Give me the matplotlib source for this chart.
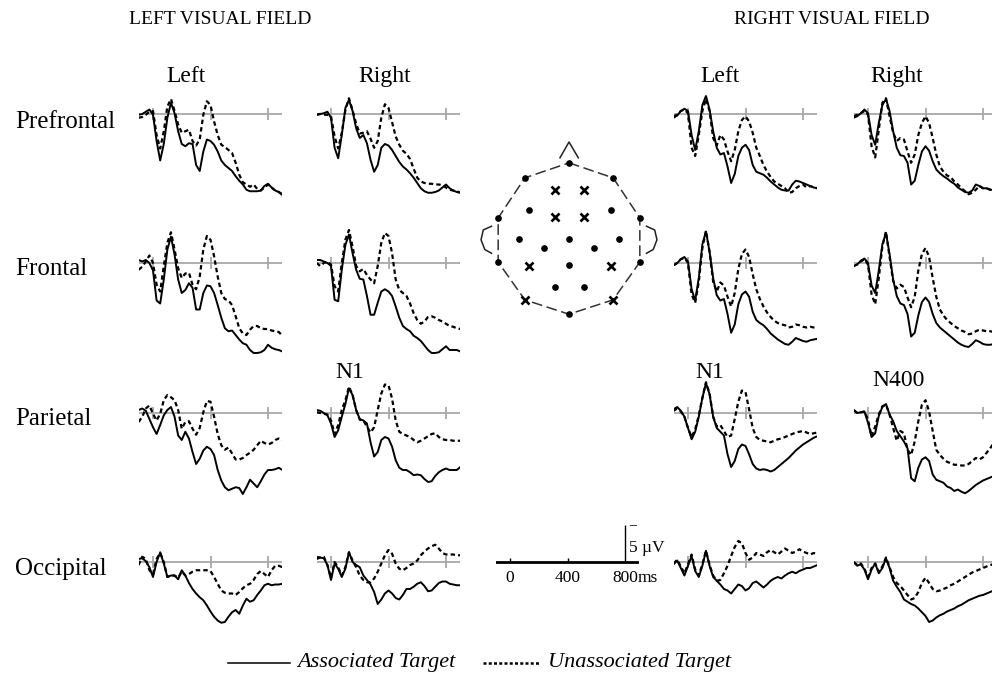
import matplotlib.pyplot as plt
import numpy as np

plt.rcParams['font.family'] = ['Liberation Serif', 'DejaVu Serif']

W, H = 992, 685
time_ms = np.arange(-100, 901, 25)

# ERP amplitudes in microvolts (negative plotted up), sampled every 25 ms
lvf_l_pre_assoc = [0.1, 0.0, -0.3, -0.6, 0.1, 3.6, 6.2, 4.0, 0.5, -1.5, -0.1, 2.3, 4.0, 4.3, 3.9, 4.0, 6.8, 7.6, 5.0, 3.4, 3.6, 4.1, 5.0, 6.2, 6.8, 7.2, 7.6, 8.3, 8.9, 9.4, 10.1, 10.3, 10.3, 10.3, 10.2, 9.6, 9.3, 9.8, 10.2, 10.4, 10.8]
lvf_l_pre_unassoc = [0.5, 0.4, 0.1, -0.3, -0.4, 2.8, 4.6, 2.3, -1.0, -2.0, -0.4, 1.4, 2.5, 2.3, 2.1, 3.6, 4.2, 3.4, 0.1, -1.7, -1.2, 1.0, 2.8, 4.1, 4.4, 4.8, 5.2, 6.5, 8.1, 9.1, 9.4, 9.7, 9.4, 10.0, 10.2, 9.8, 9.4, 9.8, 10.2, 10.4, 10.7]
lvf_r_pre_assoc = [0.1, 0.0, -0.1, -0.3, 0.5, 4.5, 5.9, 2.8, -0.8, -1.9, -0.4, 1.9, 3.2, 2.8, 3.9, 6.1, 7.7, 6.8, 4.5, 4.0, 4.2, 4.8, 5.6, 6.4, 7.0, 7.4, 7.9, 8.5, 9.2, 9.9, 10.3, 10.5, 10.5, 10.4, 10.2, 9.8, 9.4, 9.9, 10.2, 10.4, 10.5]
lvf_r_pre_unassoc = [0.1, 0.0, 0.1, 0.1, 0.3, 3.0, 4.6, 2.5, -0.5, -2.1, -0.5, 1.3, 2.6, 2.5, 2.3, 3.3, 4.5, 3.6, 0.5, -1.3, -0.8, 1.1, 3.0, 4.1, 4.9, 5.3, 6.0, 7.3, 8.5, 9.0, 9.2, 9.3, 9.3, 9.4, 9.4, 9.5, 9.8, 10.1, 10.2, 10.3, 10.5]

lvf_l_fro_assoc = [-0.4, -0.2, -0.4, 0.0, 1.0, 5.0, 5.4, 2.2, -1.8, -3.5, -1.1, 2.2, 4.0, 3.6, 2.7, 3.3, 6.2, 6.2, 4.0, 3.0, 3.1, 4.0, 5.6, 7.3, 8.7, 9.1, 9.0, 9.6, 10.2, 10.7, 10.9, 11.6, 12.0, 12.0, 11.9, 11.6, 10.9, 11.3, 11.5, 11.6, 11.8]
lvf_l_fro_unassoc = [0.9, 0.5, -0.2, -1.0, 0.0, 2.9, 3.8, 0.4, -2.7, -4.1, -1.8, 0.7, 2.0, 1.4, 1.3, 2.9, 3.5, 1.8, -1.8, -3.6, -3.1, -0.9, 1.8, 4.0, 4.8, 5.0, 5.6, 7.1, 8.7, 9.4, 9.6, 8.9, 8.4, 8.4, 8.7, 8.8, 8.8, 9.0, 9.1, 9.2, 9.7]
lvf_r_fro_assoc = [-0.4, -0.4, -0.2, 0.0, 0.4, 4.9, 5.1, 0.9, -2.4, -3.8, -1.3, 0.9, 2.1, 2.2, 4.4, 6.9, 6.9, 5.3, 3.8, 3.5, 3.8, 4.4, 5.8, 7.3, 8.4, 8.8, 9.1, 9.7, 10.0, 10.4, 11.0, 11.6, 12.0, 12.0, 11.9, 11.5, 11.1, 11.6, 11.6, 11.6, 11.8]
lvf_r_fro_unassoc = [0.0, 0.4, 0.0, -0.2, 0.2, 3.1, 3.8, 0.0, -3.1, -4.4, -2.2, 0.4, 1.1, 0.8, 1.6, 2.2, 2.7, 0.4, -2.7, -4.0, -3.6, -1.3, 2.2, 3.6, 4.0, 4.4, 5.4, 6.7, 7.6, 8.1, 7.8, 7.2, 7.1, 7.3, 7.6, 7.8, 8.1, 8.4, 8.5, 8.7, 8.8]

lvf_l_par_assoc = [-0.4, -0.6, -0.3, 0.8, 1.9, 2.8, 1.6, 0.3, -0.4, -0.8, 0.5, 3.0, 3.6, 2.5, 3.4, 5.2, 6.8, 6.1, 5.0, 4.5, 4.8, 5.6, 7.6, 9.0, 9.9, 10.3, 10.1, 9.9, 10.0, 10.8, 9.9, 8.9, 9.4, 9.9, 9.1, 8.2, 7.6, 7.6, 7.5, 7.3, 7.6]
lvf_l_par_unassoc = [1.2, 0.5, -0.6, -1.0, 0.1, 1.0, 0.1, -1.7, -2.4, -2.1, -1.7, -0.4, 2.1, 1.2, 1.1, 2.1, 2.9, 2.0, -0.1, -1.6, -1.5, 0.5, 2.8, 4.3, 4.9, 4.6, 5.4, 6.2, 6.2, 6.0, 5.6, 5.3, 4.9, 4.3, 3.7, 4.0, 4.2, 4.0, 3.6, 3.4, 3.6]
lvf_r_par_assoc = [-0.4, -0.3, 0.0, 0.3, 1.4, 3.2, 2.3, 0.5, -1.2, -3.3, -2.4, -0.4, 0.8, 1.0, 1.4, 3.9, 5.8, 5.2, 3.6, 3.2, 3.4, 4.5, 6.3, 7.3, 7.6, 7.6, 7.9, 8.3, 8.2, 8.3, 8.8, 9.2, 9.1, 8.4, 7.9, 7.6, 7.4, 7.6, 7.6, 7.6, 7.2]
lvf_r_par_unassoc = [-0.1, 0.0, 0.1, 0.2, 1.0, 2.8, 1.6, -0.4, -1.7, -3.5, -2.4, -0.4, 0.9, 1.0, 1.8, 2.6, 1.9, -0.4, -2.6, -3.8, -3.7, -1.9, 1.0, 2.5, 2.8, 3.0, 3.2, 3.6, 3.9, 3.7, 3.4, 3.1, 2.8, 2.7, 3.2, 3.5, 3.6, 3.6, 3.7, 3.7, 3.7]

lvf_l_occ_assoc = [-0.4, -0.5, -0.1, 0.7, 2.0, 0.0, -1.3, 0.2, 2.0, 1.8, 1.8, 2.3, 1.1, 1.8, 2.8, 3.6, 4.2, 4.7, 5.1, 5.8, 6.6, 7.3, 7.8, 8.1, 8.0, 7.3, 6.7, 6.4, 6.9, 5.8, 4.9, 5.3, 5.1, 4.4, 3.8, 3.1, 2.9, 3.1, 3.0, 3.0, 2.9]
lvf_l_occ_unassoc = [0.4, -0.7, -0.4, 1.1, 1.6, -0.4, -1.2, 0.0, 2.0, 1.8, 1.8, 2.1, 1.3, 1.8, 1.6, 1.3, 1.1, 1.1, 1.1, 1.1, 1.2, 2.0, 2.9, 3.8, 4.1, 4.2, 4.2, 4.4, 4.0, 3.5, 3.1, 2.9, 2.4, 1.6, 1.2, 1.6, 2.0, 1.1, 0.5, 0.5, 0.7]
lvf_r_occ_assoc = [-0.7, -0.6, -0.5, 0.4, 2.4, 0.2, 0.9, 2.0, 0.9, -1.3, 0.0, 0.4, 0.7, 1.8, 2.4, 3.0, 4.0, 5.6, 5.0, 4.2, 3.8, 4.2, 4.8, 5.0, 4.4, 3.6, 3.6, 3.3, 2.9, 2.7, 3.2, 3.9, 3.8, 3.3, 2.8, 2.6, 2.6, 2.9, 3.0, 3.1, 3.1]
lvf_r_occ_unassoc = [-0.4, -0.6, -0.7, 0.4, 2.1, 0.0, 0.7, 1.8, 0.7, -1.3, -0.2, 0.7, 1.8, 2.4, 2.7, 2.7, 2.2, 1.3, 0.2, -0.9, -1.6, -1.1, 0.2, 0.9, 1.1, 0.8, 0.4, 0.2, -0.2, -0.9, -1.4, -1.8, -2.1, -2.3, -1.8, -1.2, -1.0, -1.0, -1.0, -0.9, -0.9]

rvf_l_pre_assoc = [0.5, 0.2, -0.4, -0.7, -0.4, 2.8, 4.8, 2.3, -1.2, -2.4, -0.6, 2.3, 4.5, 5.4, 5.2, 7.0, 9.2, 8.0, 5.6, 4.5, 4.1, 4.8, 6.8, 7.7, 7.9, 8.1, 8.5, 9.0, 9.4, 9.8, 10.1, 10.2, 10.2, 9.4, 8.9, 9.0, 9.2, 9.4, 9.6, 9.8, 9.9]
rvf_l_pre_unassoc = [0.3, 0.1, -0.4, -0.6, -0.1, 4.5, 5.6, 2.8, -0.4, -2.0, -0.4, 3.2, 4.2, 2.8, 3.4, 5.0, 6.3, 4.8, 2.3, 0.8, 0.3, 1.0, 2.5, 4.5, 5.6, 6.8, 7.7, 8.4, 9.0, 9.3, 9.6, 9.9, 10.5, 10.4, 9.9, 9.6, 9.4, 9.8, 9.6, 9.8, 9.9]
rvf_r_pre_assoc = [0.5, 0.3, -0.1, -0.6, -0.1, 2.8, 4.1, 1.2, -1.2, -2.0, -0.4, 2.3, 4.5, 5.5, 5.6, 6.5, 9.4, 8.9, 6.8, 5.0, 4.3, 4.9, 6.3, 7.4, 7.9, 8.3, 8.6, 9.0, 9.3, 9.8, 10.1, 10.4, 10.5, 10.2, 9.4, 9.6, 9.9, 9.9, 10.1, 10.1, 10.1]
rvf_r_pre_unassoc = [0.3, 0.1, -0.1, -0.4, 0.1, 4.3, 5.8, 2.1, -1.5, -2.1, 0.3, 2.5, 3.6, 3.2, 3.4, 5.0, 6.5, 5.4, 2.8, 1.2, 0.3, 1.2, 3.2, 5.4, 7.0, 7.7, 8.2, 8.4, 9.0, 9.4, 9.9, 10.3, 10.7, 10.5, 10.1, 9.6, 9.9, 9.9, 10.1, 10.1, 10.1]

rvf_l_fro_assoc = [0.3, 0.0, -0.5, -0.8, -0.2, 3.5, 5.0, 2.0, -2.5, -4.2, -1.5, 2.0, 4.3, 5.0, 4.8, 6.8, 9.3, 8.2, 5.5, 4.2, 3.8, 4.5, 6.5, 7.6, 8.0, 8.3, 8.8, 9.4, 9.8, 10.2, 10.5, 10.8, 10.9, 10.5, 10.0, 10.2, 10.4, 10.5, 10.3, 10.2, 10.1]
rvf_l_fro_unassoc = [0.3, 0.0, -0.5, -0.7, 0.0, 4.2, 5.3, 2.5, -2.0, -4.3, -1.5, 2.5, 3.8, 2.6, 3.0, 4.5, 5.8, 4.0, 0.8, -1.2, -1.8, -0.8, 1.5, 3.5, 4.8, 5.8, 6.6, 7.2, 7.7, 8.0, 8.2, 8.3, 8.6, 8.5, 8.2, 8.3, 8.5, 8.6, 8.5, 8.6, 8.7]
rvf_r_fro_assoc = [0.4, 0.2, -0.3, -0.6, 0.0, 3.0, 4.0, 1.0, -2.5, -4.0, -1.2, 2.2, 4.4, 5.4, 5.6, 6.8, 9.8, 9.3, 7.0, 5.2, 4.6, 5.2, 6.8, 8.0, 8.6, 9.0, 9.4, 9.8, 10.2, 10.6, 10.9, 11.1, 11.2, 10.8, 10.3, 10.5, 10.8, 10.9, 10.9, 10.8, 10.8]
rvf_r_fro_unassoc = [0.4, 0.2, -0.2, -0.5, 0.2, 4.2, 5.5, 2.0, -2.2, -4.2, -0.8, 2.4, 3.4, 2.9, 3.2, 4.6, 5.9, 4.5, 1.0, -1.2, -2.0, -0.8, 2.0, 4.5, 6.2, 7.0, 7.6, 8.0, 8.4, 8.7, 9.0, 9.2, 9.5, 9.4, 9.1, 8.9, 9.0, 9.1, 9.1, 9.2, 9.2]

rvf_l_par_assoc = [-0.5, -0.8, -0.3, 0.5, 2.0, 3.5, 2.5, 0.5, -2.0, -4.0, -2.5, 0.5, 2.0, 2.5, 3.0, 5.5, 7.2, 6.4, 4.8, 4.2, 4.4, 5.5, 6.8, 7.4, 7.6, 7.5, 7.6, 7.8, 7.6, 7.2, 6.8, 6.4, 6.0, 5.5, 5.0, 4.6, 4.2, 3.9, 3.6, 3.3, 3.1]
rvf_l_par_unassoc = [-0.3, -0.6, -0.2, 0.5, 2.0, 3.2, 2.2, 0.3, -2.0, -4.1, -2.6, 0.5, 1.8, 1.6, 2.4, 3.2, 3.0, 0.8, -1.5, -3.0, -2.8, -0.5, 2.0, 3.2, 3.6, 3.7, 3.8, 3.9, 3.7, 3.5, 3.4, 3.2, 3.0, 2.8, 2.6, 2.5, 2.4, 2.6, 2.8, 2.7, 2.6]
rvf_r_par_assoc = [-0.4, 0.0, -0.1, -0.2, 1.3, 3.2, 2.7, 0.4, -0.8, -1.2, 0.2, 1.1, 2.4, 3.1, 3.8, 4.7, 8.7, 9.1, 7.3, 6.2, 5.9, 6.4, 8.2, 8.9, 9.1, 9.3, 9.8, 10.0, 10.4, 10.2, 10.5, 10.7, 10.4, 10.0, 9.6, 9.3, 9.0, 8.8, 8.6, 8.4, 8.3]
rvf_r_par_unassoc = [-0.4, 0.0, -0.1, -0.2, 0.9, 3.1, 1.8, 0.2, -0.9, -1.1, 0.2, 2.0, 3.7, 2.4, 2.7, 4.9, 5.6, 3.8, 1.1, -1.1, -1.7, -0.2, 2.4, 4.9, 5.6, 6.1, 6.5, 6.7, 6.9, 6.9, 7.0, 7.0, 6.8, 6.4, 6.0, 6.2, 5.9, 5.3, 4.7, 4.0, 3.4]

rvf_l_occ_assoc = [0.3, -0.2, 0.8, 1.8, 0.5, -0.8, 1.2, 2.0, 0.5, -1.5, 0.5, 2.0, 2.5, 3.0, 3.6, 3.8, 4.2, 3.6, 3.0, 3.2, 3.8, 3.5, 2.8, 2.6, 3.0, 3.4, 3.0, 2.5, 2.2, 2.0, 2.2, 1.8, 1.5, 1.3, 1.5, 1.2, 1.0, 0.8, 0.8, 0.6, 0.4]
rvf_l_occ_unassoc = [0.2, -0.3, 0.6, 1.5, 0.3, -1.0, 1.0, 1.8, 0.3, -1.5, 0.4, 1.8, 2.5, 2.4, 1.5, 0.5, -0.8, -2.0, -2.8, -2.5, -1.2, -0.3, -0.6, -1.2, -1.0, -0.8, -1.3, -1.6, -1.3, -1.0, -1.4, -1.8, -1.5, -1.2, -1.4, -1.7, -1.4, -1.2, -1.0, -1.2, -1.0]
rvf_r_occ_assoc = [0.0, 0.5, 0.3, 1.0, 2.3, 1.0, 0.2, 1.5, 0.8, -0.5, 0.8, 2.5, 3.3, 4.0, 5.0, 5.3, 5.6, 5.8, 6.2, 6.7, 7.2, 8.0, 7.8, 7.4, 7.1, 6.9, 6.6, 6.4, 6.2, 5.9, 5.7, 5.4, 5.1, 4.9, 4.7, 4.5, 4.4, 4.2, 4.0, 3.8, 3.7]
rvf_r_occ_unassoc = [0.0, 0.4, 0.2, 0.9, 2.0, 0.8, 0.2, 1.3, 0.6, -0.6, 0.7, 2.0, 2.8, 3.2, 3.8, 4.4, 5.0, 4.8, 4.0, 2.8, 2.1, 2.8, 3.6, 3.9, 3.8, 3.6, 3.4, 3.1, 2.9, 2.6, 2.3, 2.0, 1.7, 1.4, 1.2, 1.0, 0.8, 0.6, 0.4, 0.3, 0.2]

regions = ['Prefrontal', 'Frontal', 'Parietal', 'Occipital']
hemispheres = ['Left', 'Right']
fields = ['LEFT VISUAL FIELD', 'RIGHT VISUAL FIELD']

panels = [
    [(lvf_l_pre_assoc, lvf_l_pre_unassoc), (lvf_r_pre_assoc, lvf_r_pre_unassoc),
     (rvf_l_pre_assoc, rvf_l_pre_unassoc), (rvf_r_pre_assoc, rvf_r_pre_unassoc)],
    [(lvf_l_fro_assoc, lvf_l_fro_unassoc), (lvf_r_fro_assoc, lvf_r_fro_unassoc),
     (rvf_l_fro_assoc, rvf_l_fro_unassoc), (rvf_r_fro_assoc, rvf_r_fro_unassoc)],
    [(lvf_l_par_assoc, lvf_l_par_unassoc), (lvf_r_par_assoc, lvf_r_par_unassoc),
     (rvf_l_par_assoc, rvf_l_par_unassoc), (rvf_r_par_assoc, rvf_r_par_unassoc)],
    [(lvf_l_occ_assoc, lvf_l_occ_unassoc), (lvf_r_occ_assoc, lvf_r_occ_unassoc),
     (rvf_l_occ_assoc, rvf_l_occ_unassoc), (rvf_r_occ_assoc, rvf_r_occ_unassoc)],
]

# electrode montage (head coordinates, nose up)
outline_x = [0.0, 0.587, 0.942, 0.942, 0.587, 0.0, -0.587, -0.942, -0.942, -0.587, 0.0]
outline_y = [1.013, 0.813, 0.28, -0.307, -0.809, -1.0, -0.809, -0.307, 0.28, 0.813, 1.013]
dot_x = [0.0, -0.587, 0.587, -0.942, 0.942, -0.942, 0.942, 0.0, -0.529, 0.556, -0.662, 0.0, 0.662, -0.333, 0.333, 0.0, -0.187, 0.2]
dot_y = [1.013, 0.813, 0.813, 0.28, 0.28, -0.307, -0.307, -1.0, 0.391, 0.391, 0.0, 0.0, 0.0, -0.12, -0.12, -0.342, -0.64, -0.64]
cross_x = [-0.187, 0.2, -0.187, 0.2, -0.529, 0.556, -0.587, 0.587]
cross_y = [0.658, 0.658, 0.293, 0.293, -0.364, -0.364, -0.809, -0.809]

# layout in pixels
PX_MS = 57.5 / 400
PX_UV = 7.5
col_zero = [153, 331, 688, 868]
row_base = [114, 263, 413, 562]

fig = plt.figure(figsize=(W / 100, H / 100), dpi=100)


def px_axes(x, y, w, h):
    return fig.add_axes([x / W, 1 - (y + h) / H, w / W, h / H])


def wave_axes(x0, base):
    ax = px_axes(x0 - 100 * PX_MS, base - 6 * PX_UV, 1000 * PX_MS, 20 * PX_UV)
    ax.set_xlim(-100, 900)
    ax.set_ylim(14, -6)
    ax.axis('off')
    return ax


grey = '#a8a8a8'
for r, row in enumerate(panels):
    for c, (assoc, unassoc) in enumerate(row):
        ax = wave_axes(col_zero[c], row_base[r])
        ax.axhline(0, color=grey, lw=1.3, zorder=1)
        ax.vlines([0, 400, 800], -0.85, 0.85, color=grey, lw=1.3, zorder=1)
        ax.plot(time_ms, assoc, color='black', lw=1.4, zorder=3)
        ax.plot(time_ms, unassoc, color='black', lw=1.6, ls=(0, (2.0, 1.4)), zorder=2)

# scale bar
sb = wave_axes(510, 562)
sb.plot([-100, 890], [0, 0], color='black', lw=2.0)
sb.vlines([0, 400], 0, -0.6, color='black', lw=1.0)
sb.vlines(800, 0, -5, color='black', lw=1.0)
for t, lab in [(0, '0'), (400, '400'), (800, '800')]:
    sb.text(t, 1.0, lab, ha='center', va='top', fontsize=12.5)
sb.text(885, 1.0, 'ms', ha='left', va='top', fontsize=12.5)
sb.text(830, -1.9, '5 µV', ha='left', va='center', fontsize=12.5)
sb.text(830, -4.8, '–', ha='left', va='center', fontsize=10)

# head map
hd = px_axes(469, 139, 200, 200)
hd.set_xlim(-1.33, 1.33)
hd.set_ylim(-1.33, 1.33)
hd.set_aspect('equal')
hd.axis('off')
hd.plot(outline_x, outline_y, color='#333333', lw=1.1, ls=(0, (7, 3)))
hd.plot([-0.12, 0.0, 0.124], [1.08, 1.29, 1.08], color='#222222', lw=1.1)
hd.plot([-1.03, -1.14, -1.17, -1.12, -1.03], [0.17, 0.12, -0.01, -0.14, -0.19], color='#222222', lw=1.1)
hd.plot([1.03, 1.14, 1.17, 1.12, 1.03], [0.17, 0.12, -0.01, -0.14, -0.19], color='#222222', lw=1.1)
hd.plot(dot_x, dot_y, 'o', color='black', ms=3.8, ls='none')
hd.plot(cross_x, cross_y, 'x', color='black', ms=5.5, mew=1.9, ls='none')

# texts
fs_title = 14
fig.text(220 / W, 1 - 20 / H, fields[0], ha='center', va='center', fontsize=fs_title)
fig.text(832 / W, 1 - 20 / H, fields[1], ha='center', va='center', fontsize=fs_title)
for x, name in zip([186, 385, 720, 897], hemispheres * 2):
    fig.text(x / W, 1 - 82 / H, name, ha='center', va='baseline', fontsize=17)
for y, name in zip([128, 275, 425, 575], regions):
    fig.text(15 / W, 1 - y / H, name, ha='left', va='baseline', fontsize=18)
fig.text(350 / W, 1 - 372 / H, 'N1', ha='center', va='center', fontsize=17)
fig.text(710 / W, 1 - 372 / H, 'N1', ha='center', va='center', fontsize=17)
fig.text(899 / W, 1 - 380 / H, 'N400', ha='center', va='center', fontsize=17)

# key
key = px_axes(0, 645, W, 36)
key.set_xlim(0, W)
key.set_ylim(36, 0)
key.axis('off')
key.plot([228, 290], [18, 18], color='black', lw=1.1)
key.text(297, 18, 'Associated Target', style='italic', ha='left', va='center', fontsize=16)
key.plot([483, 540], [18, 18], color='black', lw=1.8, ls=(0, (1.2, 0.9)))
key.text(548, 18, 'Unassociated Target', style='italic', ha='left', va='center', fontsize=16)

fig.savefig('out.png', dpi=100)
